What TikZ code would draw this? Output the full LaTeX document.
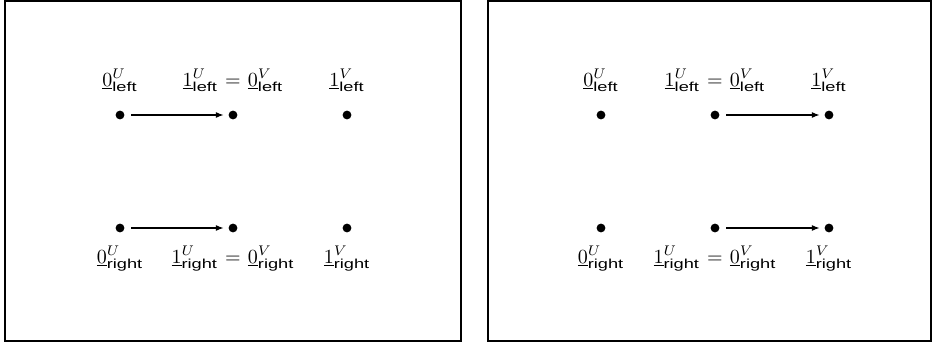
\documentclass[tikz,border=0pt]{standalone}
\usepackage{fontspec}
\newfontfamily\subsf[FakeStretch=1.4]{Liberation Sans}
\usetikzlibrary{arrows.meta}
\begin{document}
\begin{tikzpicture}[x=0.5pt,y=-0.5pt,
  dot/.style={circle,fill=black,inner sep=0pt,minimum size=4.4pt},
  arr/.style={-{Latex[length=4pt,width=3pt]},line width=0.6pt,shorten <=3.2pt,shorten >=2.2pt},
  lbl/.style={anchor=base,inner sep=0pt},
  frame/.style={line width=0.8pt}]
\useasboundingbox (0,0) rectangle (933,343);
\newcommand{\lab}[3]{$\underline{#1}^{#2}_{\hbox{\fontsize{6.5}{7}\subsf #3}}$}
\newcommand{\eqs}{\hspace{3.6pt}$=$\hspace{3.6pt}}
% frames
\draw[frame] (5,1) rectangle (461,341);
\draw[line width=1.4pt] (5,341) -- (461,341);
\draw[frame] (488,1) rectangle (931,341);
\draw[line width=1.4pt] (488,341) -- (931,341);
% left panel
\foreach \n/\x in {a/120,b/233,c/347}{
  \node[dot] (t\n) at (\x,115) {};
  \node[dot] (u\n) at (\x,228) {};
}
\node[lbl] (lta) at (120,86) {\lab{0}{U}{left}};
\node[lbl] (ltb) at (233,86) {\lab{1}{U}{left}\eqs\lab{0}{V}{left}};
\node[lbl] (ltc) at (347,86) {\lab{1}{V}{left}};
\node[lbl] (lua) at (120,263) {\lab{0}{U}{right}};
\node[lbl] (lub) at (233,263) {\lab{1}{U}{right}\eqs\lab{0}{V}{right}};
\node[lbl] (luc) at (347,263) {\lab{1}{V}{right}};
\draw[arr] (ta) -- (tb);
\draw[arr] (ua) -- (ub);
% right panel
\foreach \n/\x in {a/601,b/715,c/829}{
  \node[dot] (s\n) at (\x,115) {};
  \node[dot] (v\n) at (\x,228) {};
}
\node[lbl] (rta) at (601,86) {\lab{0}{U}{left}};
\node[lbl] (rtb) at (715,86) {\lab{1}{U}{left}\eqs\lab{0}{V}{left}};
\node[lbl] (rtc) at (829,86) {\lab{1}{V}{left}};
\node[lbl] (rua) at (601,263) {\lab{0}{U}{right}};
\node[lbl] (rub) at (715,263) {\lab{1}{U}{right}\eqs\lab{0}{V}{right}};
\node[lbl] (ruc) at (829,263) {\lab{1}{V}{right}};
\draw[arr] (sb) -- (sc);
\draw[arr] (vb) -- (vc);
\end{tikzpicture}
\end{document}
